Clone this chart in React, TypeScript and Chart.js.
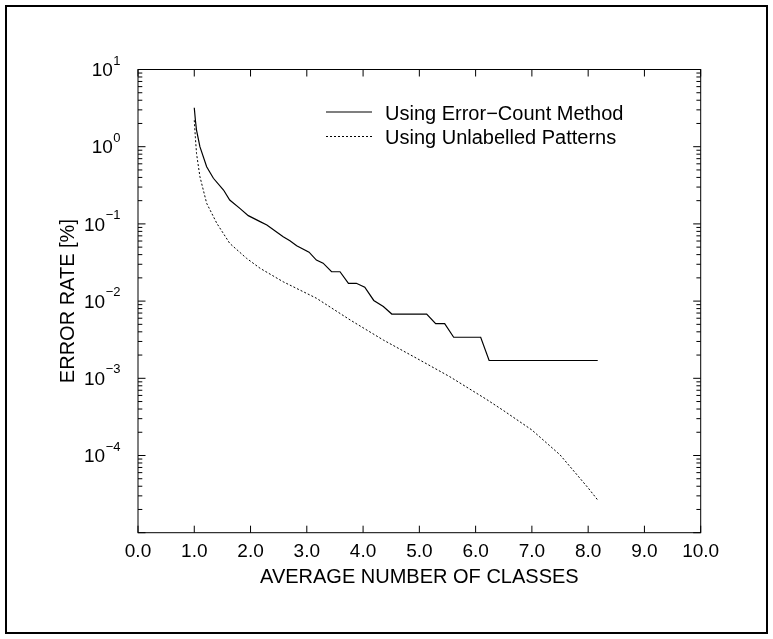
import React, { useEffect, useRef } from "react";
import { Chart, registerables } from "chart.js";

Chart.register(...registerables);

const xErrorCount = [1.0, 1.02, 1.04, 1.1, 1.22, 1.34, 1.52, 1.63, 1.81, 1.96, 2.17, 2.29, 2.58, 2.7, 2.82, 3.04, 3.17, 3.29, 3.44, 3.59, 3.74, 3.88, 4.03, 4.19, 4.36, 4.51, 5.13, 5.29, 5.45, 5.61, 6.09, 6.24, 8.17];
const yErrorCount = [3.2, 2.2, 1.64, 1.0, 0.55, 0.39, 0.275, 0.204, 0.159, 0.128, 0.107, 0.097, 0.068, 0.0605, 0.052, 0.043, 0.034, 0.031, 0.024, 0.024, 0.017, 0.017, 0.0151, 0.0102, 0.0085, 0.0068, 0.0068, 0.0051, 0.0051, 0.0034, 0.0034, 0.0017, 0.0017];

const xUnlabelled = [1.0, 1.02, 1.04, 1.1, 1.22, 1.4, 1.63, 1.93, 2.17, 2.58, 3.17, 3.77, 4.36, 4.95, 5.54, 6.19, 6.5, 7.0, 7.5, 8.0, 8.17];
const yUnlabelled = [2.2, 1.3, 0.82, 0.41, 0.185, 0.102, 0.056, 0.0358, 0.0266, 0.0178, 0.0109, 0.0057, 0.00313, 0.00182, 0.00105, 0.000535, 0.00038, 0.000214, 0.000102, 0.000038, 0.0000265];

const xTickValues = [0, 1, 2, 3, 4, 5, 6, 7, 8, 9, 10];
const yDecadeExponents = [-5, -4, -3, -2, -1, 0, 1];
const yLabelExponents = [-4, -3, -2, -1, 0, 1];

const seriesNames = ["Using Error\u2212Count Method", "Using Unlabelled Patterns"];
const xTitle = "AVERAGE NUMBER OF CLASSES";
const yTitle = "ERROR RATE [%]";

const FONT = '"Liberation Sans", Arial, Helvetica, sans-serif';

const decor = {
  id: "decor",
  afterDraw(chart: any) {
    const ctx = chart.ctx as CanvasRenderingContext2D;
    const { left, right, top, bottom } = chart.chartArea;
    const xs = chart.scales.x;
    const ys = chart.scales.y;
    ctx.save();
    ctx.strokeStyle = "#000";
    ctx.fillStyle = "#000";
    // outer frame
    ctx.lineWidth = 2;
    ctx.strokeRect(6, 6, 761, 627);
    // plot frame
    ctx.lineWidth = 1;
    ctx.strokeRect(left, top, right - left, bottom - top);

    // x ticks
    ctx.font = `19px ${FONT}`;
    ctx.textAlign = "center";
    ctx.textBaseline = "alphabetic";
    for (const v of xTickValues) {
      const px = xs.getPixelForValue(v);
      ctx.beginPath();
      ctx.moveTo(px, bottom);
      ctx.lineTo(px, bottom - 7);
      ctx.moveTo(px, top);
      ctx.lineTo(px, top + 7);
      ctx.stroke();
      ctx.fillText(v.toFixed(1), px, 557);
    }

    // y ticks
    for (const e of yDecadeExponents) {
      const base = Math.pow(10, e);
      const py = ys.getPixelForValue(base);
      ctx.beginPath();
      ctx.moveTo(left, py);
      ctx.lineTo(left + 7.5, py);
      ctx.moveTo(right, py);
      ctx.lineTo(right - 7.5, py);
      ctx.stroke();
      if (e < 1) {
        for (let m = 2; m <= 9; m++) {
          const my = ys.getPixelForValue(base * m);
          ctx.beginPath();
          ctx.moveTo(left, my);
          ctx.lineTo(left + 4.3, my);
          ctx.moveTo(right, my);
          ctx.lineTo(right - 4.3, my);
          ctx.stroke();
        }
      }
    }
    const labelRight = 120.5;
    for (const e of yLabelExponents) {
      const py = ys.getPixelForValue(Math.pow(10, e));
      const expText = e < 0 ? "\u2212" + Math.abs(e) : String(e);
      ctx.font = `13px ${FONT}`;
      ctx.textAlign = "right";
      ctx.fillText(expText, labelRight, py - 5);
      const w = ctx.measureText(expText).width;
      ctx.font = `19px ${FONT}`;
      ctx.fillText("10", labelRight - w - 0.5, py + 6.7);
    }

    // axis titles
    ctx.font = `20px ${FONT}`;
    ctx.textAlign = "center";
    ctx.fillText(xTitle, (left + right) / 2, 583);
    ctx.save();
    ctx.translate(73.5, (top + bottom) / 2);
    ctx.rotate(-Math.PI / 2);
    ctx.fillText(yTitle, 0, 0);
    ctx.restore();

    // legend
    ctx.textAlign = "left";
    ctx.lineWidth = 1.2;
    ctx.beginPath();
    ctx.moveTo(326, 112);
    ctx.lineTo(372, 112);
    ctx.stroke();
    ctx.fillText(seriesNames[0], 385, 120);
    ctx.lineWidth = 1;
    ctx.setLineDash([2, 2]);
    ctx.beginPath();
    ctx.moveTo(326, 136.5);
    ctx.lineTo(372, 136.5);
    ctx.stroke();
    ctx.setLineDash([]);
    ctx.fillText(seriesNames[1], 385, 144);
    ctx.restore();
  },
};

export default function App() {
  const ref = useRef<HTMLCanvasElement | null>(null);
  useEffect(() => {
    if (!ref.current) return;
    const chart = new Chart(ref.current, {
      type: "line",
      data: {
        datasets: [
          {
            label: seriesNames[0],
            data: xErrorCount.map((x, i) => ({ x, y: yErrorCount[i] })),
            borderColor: "#000",
            borderWidth: 1.2,
            pointRadius: 0,
            tension: 0,
            fill: false,
          },
          {
            label: seriesNames[1],
            data: xUnlabelled.map((x, i) => ({ x, y: yUnlabelled[i] })),
            borderColor: "#000",
            borderWidth: 1,
            borderDash: [2, 2],
            pointRadius: 0,
            tension: 0,
            fill: false,
          },
        ],
      },
      options: {
        animation: false,
        responsive: false,
        maintainAspectRatio: false,
        layout: { padding: { top: 69.5, right: 72.3, left: 0, bottom: 0 } },
        plugins: { legend: { display: false }, tooltip: { enabled: false }, title: { display: false } },
        scales: {
          x: {
            type: "linear",
            min: 0,
            max: 10,
            ticks: { display: false, stepSize: 1 },
            grid: { display: false },
            border: { display: false },
            afterFit: (s: any) => {
              s.height = 639 - 532.7;
            },
          },
          y: {
            type: "logarithmic",
            min: 1e-5,
            max: 10,
            ticks: { display: false },
            grid: { display: false },
            border: { display: false },
            afterFit: (s: any) => {
              s.width = 138;
            },
          },
        },
      },
      plugins: [decor],
    });
    return () => chart.destroy();
  }, []);
  return (
    <div style={{ position: "fixed", left: 0, top: 0, width: 773, height: 639, background: "#fff" }}>
      <canvas ref={ref} width={773} height={639} style={{ width: 773, height: 639, display: "block" }} />
    </div>
  );
}
